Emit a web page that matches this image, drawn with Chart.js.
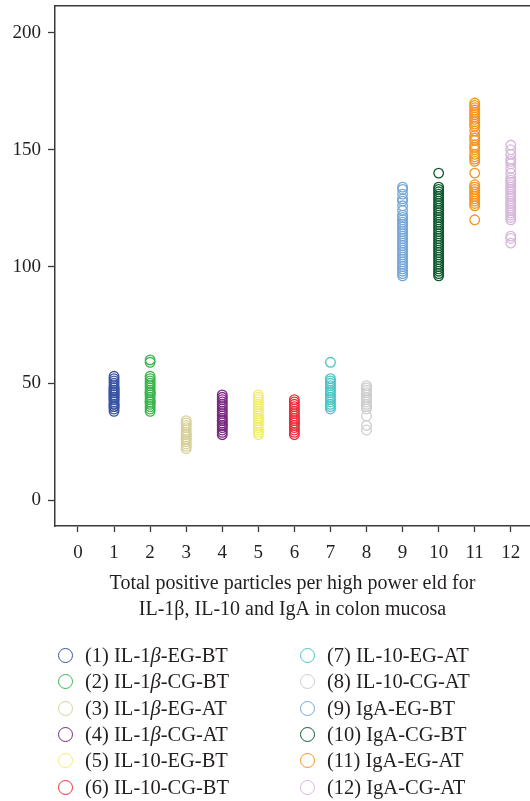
<!DOCTYPE html>
<html>
<head>
<meta charset="utf-8">
<script src="https://cdn.jsdelivr.net/npm/chart.js@4/dist/chart.umd.min.js"></script>
<style>
    html, body { margin: 0; padding: 0; background: #fff; }
    #wrap { position: relative; width: 530px; height: 801px; overflow: hidden; }
    #chart { position: absolute; left: 0; top: 0; }
    .legend-item {
        position: absolute;
        font-family: 'Liberation Serif', 'DejaVu Serif', serif;
        font-size: 20.5px;
        color: #231f20;
        white-space: nowrap;
        line-height: 20px;
    }
    .legend-item .dot {
        position: absolute;
        width: 15px;
        height: 15px;
        border-radius: 50%;
        box-sizing: border-box;
        border: 1.5px solid #000;
        top: 3px;
    }
</style>
</head>
<body>
<div id="wrap">
    <canvas id="chart" width="536" height="801"></canvas>
    <div id="legend"></div>
</div>
<script>
// group names, one per x position 1..12
const seriesNames = [
    'IL-1β-EG-BT', 'IL-1β-CG-BT', 'IL-1β-EG-AT', 'IL-1β-CG-AT',
    'IL-10-EG-BT', 'IL-10-CG-BT', 'IL-10-EG-AT', 'IL-10-CG-AT',
    'IgA-EG-BT', 'IgA-CG-BT', 'IgA-EG-AT', 'IgA-CG-AT'
];
const seriesColors = [
    '#3953a4', '#39b54a', '#d6d09a', '#7b2882',
    '#f2ed6f', '#ee2d3b', '#4cc4c4', '#cdcdcd',
    '#74a7d7', '#0d5a2c', '#f7941e', '#d6b7db'
];

// values read per group
const g1 = [38, 39, 40, 40, 41, 41, 42, 43, 43, 44, 44, 45, 45, 46, 46, 47, 47, 48, 48, 49, 50, 51, 52, 53];
const g2 = [38, 39, 40, 41, 42, 42, 43, 44, 45, 46, 46, 47, 48, 49, 50, 51, 52, 53, 59, 60];
const g3 = [22, 23, 24, 25, 26, 26, 27, 28, 28, 29, 30, 31, 32, 33, 34];
const g4 = [28, 29, 30, 31, 32, 32, 33, 34, 34, 35, 36, 37, 38, 39, 40, 41, 42, 43, 44, 45];
const g5 = [28, 29, 30, 31, 32, 33, 34, 35, 35, 36, 37, 38, 39, 40, 41, 42, 43, 44, 45];
const g6 = [28, 29, 30, 31, 32, 33, 33, 34, 35, 36, 37, 38, 39, 40, 41, 42, 43];
const g7 = [39, 40, 41, 42, 43, 44, 45, 46, 47, 48, 49, 50, 51, 52, 59];
const g8 = [30, 32, 36, 39, 40, 41, 42, 43, 44, 45, 46, 47, 48, 49];
const g9 = [96, 97, 98, 99, 100, 101, 102, 103, 104, 105, 106, 107, 108, 109, 110, 111, 112, 113, 114, 115,
    116, 117, 118, 119, 120, 121, 122, 124, 126, 128, 129, 131, 133, 134];
const g10 = [96, 97, 98, 99, 100, 101, 102, 103, 104, 105, 106, 107, 108, 109, 110, 111, 112, 113, 114, 115,
    116, 117, 118, 119, 120, 121, 122, 123, 124, 125, 126, 127, 128, 129, 130, 131, 132, 133, 134, 140];
const g11 = [120, 126, 127, 128, 129, 130, 131, 132, 133, 134, 135, 140, 145, 146, 147, 148, 150, 151, 152, 154,
    155, 156, 158, 160, 161, 162, 163, 164, 165, 166, 167, 168, 169, 170];
const g12 = [110, 112, 113, 120, 121, 122, 123, 124, 125, 126, 127, 128, 129, 130, 131, 132, 133, 134, 135, 136,
    137, 138, 140, 142, 144, 145, 146, 148, 150, 152];
const groups = [g1, g2, g3, g4, g5, g6, g7, g8, g9, g10, g11, g12];

const xTicks = [0, 1, 2, 3, 4, 5, 6, 7, 8, 9, 10, 11, 12];
const yTicks = [0, 50, 100, 150, 200];
const xTitle = ['Total positive particles per high power eld for', 'IL-1β, IL-10 and IgA in colon mucosa'];

const serif = "'Liberation Serif', 'DejaVu Serif', serif";
const axisColor = '#3a3a3a';

const datasets = groups.map((vals, i) => ({
    label: `(${i + 1}) ${seriesNames[i]}`,
    data: vals.map(v => ({ x: i + 1, y: v })),
    borderColor: seriesColors[i],
    backgroundColor: 'rgba(0,0,0,0)',
    borderWidth: 1.3,
    pointRadius: 4.8,
    pointHoverRadius: 4.8
}));

const noPad = s => { s.paddingTop = 0; s.paddingBottom = 0; s.paddingLeft = 0; s.paddingRight = 0; };

new Chart(document.getElementById('chart'), {
    type: 'scatter',
    data: { datasets },
    options: {
        responsive: false,
        animation: false,
        events: [],
        layout: { padding: { top: 5, right: 0, left: 0, bottom: 178 } },
        plugins: {
            legend: { display: false },
            tooltip: { enabled: false }
        },
        scales: {
            x: {
                type: 'linear',
                position: 'bottom',
                min: -0.637,
                max: 12.53,
                afterBuildTicks: s => { s.ticks = xTicks.map(v => ({ value: v })); },
                afterFit: s => { s.height = 97; noPad(s); },
                grid: { drawOnChartArea: false, tickLength: 6, tickColor: axisColor, tickWidth: 1.3 },
                border: { color: axisColor, width: 1.5 },
                ticks: { color: '#231f20', padding: 10, font: { family: serif, size: 19 }, maxRotation: 0 },
                title: {
                    display: true,
                    text: xTitle,
                    color: '#231f20',
                    font: { family: serif, size: 20, lineHeight: 26 / 20 },
                    padding: { top: 0, bottom: 0 }
                }
            },
            xTop: {
                type: 'linear',
                position: 'top',
                min: -0.637,
                max: 12.53,
                afterFit: s => { s.height = 0; noPad(s); },
                grid: { display: false, drawTicks: false },
                border: { color: axisColor, width: 1.5 },
                ticks: { display: false }
            },
            y: {
                min: -11.1,
                max: 211.5,
                afterBuildTicks: s => { s.ticks = yTicks.map(v => ({ value: v })); },
                afterFit: s => { s.width = 55; noPad(s); },
                grid: { drawOnChartArea: false, tickLength: 7, tickColor: axisColor, tickWidth: 1.3 },
                border: { color: axisColor, width: 1.5 },
                ticks: { color: '#231f20', padding: 7, font: { family: serif, size: 19 } }
            }
        }
    }
});

// two-column legend below the chart
const legend = document.getElementById('legend');
seriesNames.forEach((name, i) => {
    const col = i < 6 ? 0 : 1;
    const row = i % 6;
    const item = document.createElement('div');
    item.className = 'legend-item';
    item.style.left = (col === 0 ? 85 : 327) + 'px';
    item.style.top = (645 + row * 26.3) + 'px';
    const dot = document.createElement('span');
    dot.className = 'dot';
    dot.style.borderColor = seriesColors[i];
    dot.style.left = '-27px';
    item.appendChild(dot);
    const label = document.createElement('span');
    label.innerHTML = `(${i + 1}) ` + name.replace('β', '<i>β</i>');
    item.appendChild(label);
    legend.appendChild(item);
});
</script>
</body>
</html>
